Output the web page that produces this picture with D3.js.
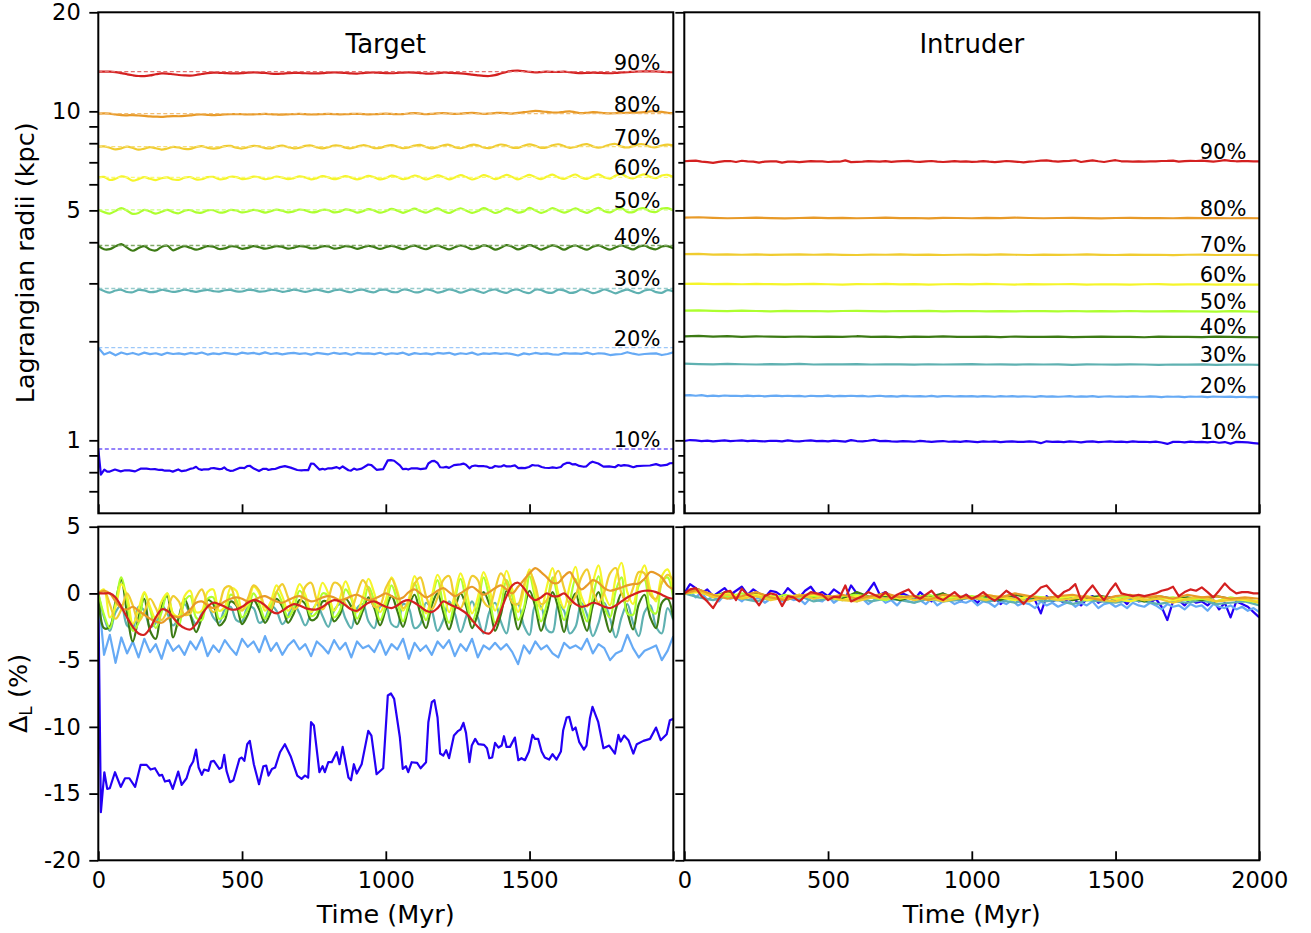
<!DOCTYPE html>
<html>
<head>
<meta charset="utf-8">
<script src="https://cdn.jsdelivr.net/npm/d3@7"></script>
<style>
  body { margin: 0; background: #fff; }
  svg { display: block; }
  text { font-family: "DejaVu Sans", sans-serif; fill: #000; }
</style>
</head>
<body>
<svg id="chart" width="1311" height="933"></svg>
<script>
// ---------------------------------------------------------------
// Lagrangian radii of the target and intruder galaxies over time
// ---------------------------------------------------------------
const fractions = ["10%", "20%", "30%", "40%", "50%", "60%", "70%", "80%", "90%"];
const colors = ["#2400f5", "#66aaf5", "#5fb1b1", "#3c7a14", "#adff2f",
                "#f5f52a", "#f0cc30", "#e89a28", "#d42020"];

// initial radius (kpc) enclosing each mass fraction
const targetR0   = [0.941, 1.912, 2.894, 3.91, 5.02, 6.30, 7.81, 9.84, 13.2];
const intruderR0 = [0.995, 1.37, 1.71, 2.07, 2.477, 2.99, 3.68, 4.75, 7.05];

// time axis (Myr)
const timeTicks = [0, 500, 1000, 1500, 2000];
const radiusTicksMajor = [1, 5, 10, 20];
const radiusTicksMinor = [0.7, 0.8, 0.9, 2, 3, 4, 6, 7, 8, 9];
const deltaTicks = [5, 0, -5, -10, -15, -20];

// Δ_L (%) of the target; 10% series given as [time, value] pairs,
// the others sampled evenly from 0 to 2000 Myr
const target10 = [[0,0],[9,-16.4],[21,-13.4],[31,-14.65],[40,-14.6],[58,-13.4],[78,-14.5],[93,-13.85],[108,-13.85],[128,-14.5],
  [147,-12.85],[168,-12.85],[182,-13.2],[197,-13.1],[212,-13.65],[222,-13.6],[232,-14.1],[247,-14.0],[259,-14.65],[278,-13.35],
  [290,-14.35],[307,-13.85],[319,-13.0],[330,-12.6],[340,-11.7],[349,-13.05],[360,-13.6],[368,-13.2],[383,-13.3],[392,-12.6],
  [402,-12.55],[421,-13.15],[429,-13.05],[438,-12.1],[446,-13.3],[458,-14.15],[470,-14.0],[491,-12.4],[499,-12.3],[508,-12.55],
  [518,-11.3],[527,-11.05],[541,-12.8],[559,-14.3],[574,-12.95],[584,-12.9],[592,-13.65],[604,-13.15],[615,-13.05],[632,-11.9],
  [649,-11.3],[669,-12.2],[692,-13.65],[707,-13.9],[719,-13.65],[730,-13.8],[740,-9.65],[750,-9.9],[769,-13.4],[780,-12.95],
  [788,-13.4],[800,-12.65],[812,-12.65],[829,-11.9],[839,-12.8],[850,-11.5],[870,-13.8],[879,-14.0],[889,-12.8],[899,-13.5],
  [916,-12.8],[939,-10.3],[950,-10.65],[968,-13.55],[991,-13.1],[1007,-7.65],[1018,-7.5],[1029,-7.9],[1049,-10.8],[1059,-13.15],
  [1070,-12.95],[1078,-13.4],[1090,-12.65],[1109,-12.7],[1121,-13.1],[1140,-12.65],[1148,-9.65],[1160,-8.15],[1169,-8.0],[1180,-9.3],
  [1189,-12.0],[1200,-12.15],[1210,-11.75],[1220,-12.35],[1237,-10.65],[1252,-10.3],[1260,-10.2],[1270,-9.7],[1279,-10.45],[1291,-12.65],
  [1299,-11.4],[1311,-10.9],[1322,-11.3],[1342,-11.35],[1352,-11.6],[1360,-12.35],[1370,-12.3],[1380,-11.2],[1392,-11.55],[1403,-11.4],
  [1411,-10.7],[1420,-11.5],[1432,-11.5],[1449,-10.8],[1461,-12.5],[1472,-12.35],[1484,-12.5],[1498,-11.85],[1510,-10.6],[1519,-10.9],
  [1530,-10.9],[1542,-11.85],[1553,-12.3],[1568,-12.45],[1580,-12.05],[1594,-12.45],[1609,-11.85],[1617,-10.25],[1629,-9.3],[1638,-9.25],
  [1650,-10.25],[1660,-10.05],[1673,-11.15],[1689,-11.7],[1698,-11.4],[1710,-9.35],[1719,-8.5],[1739,-9.65],[1757,-11.6],[1777,-11.4],
  [1797,-12.0],[1809,-10.6],[1817,-11.1],[1829,-10.65],[1844,-11.0],[1861,-12.0],[1873,-11.3],[1896,-11.05],[1919,-10.9],[1940,-10.05],
  [1956,-11.0],[1977,-10.55],[1988,-9.5],[2000,-9.4]];

const target20 = [
  0, -4.6, -3.1, -5.2, -3.3, -4.5, -3.6, -4.8, -3.4, -4.4,
  -3.8, -4.9, -3.5, -4.3, -3.9, -4.6, -3.6, -4.2, -3.3, -4.7,
  -3.9, -4.4, -3.5, -4.1, -4.6, -3.4, -4.0, -3.6, -4.4, -3.2,
  -4.3, -3.7, -4.6, -3.9, -3.5, -4.2, -3.8, -4.7, -3.6, -4.0,
  -4.5, -3.5, -4.2, -3.7, -4.8, -3.6, -4.1, -3.9, -4.4, -3.5,
  -4.6, -3.8, -4.2, -3.4, -4.9, -3.7, -4.3, -3.9, -4.6, -3.6,
  -4.1, -3.5, -4.7, -3.8, -4.3, -3.4, -4.8, -3.9, -4.2, -3.7,
  -4.2, -3.8, -4.4, -5.3, -3.9, -4.5, -3.6, -4.2, -3.9, -4.5,
  -4.8, -3.7, -4.1, -3.9, -4.2, -3.4, -4.5, -3.8, -4.1, -5.0,
  -4.5, -4.3, -3.1, -4.1, -4.8, -4.3, -4.1, -3.9, -5.0, -4.3,
  -3.2];
const target30 = [
  0, -1.8, -2.8, -1.4, -0.9, -2.4, -2.6, -1.0, -1.3, -2.5,
  -2.2, -0.9, -1.5, -2.4, -1.8, -0.8, -1.6, -2.3, -1.5, -0.9,
  -1.8, -2.2, -1.2, -1.0, -2.0, -2.1, -1.0, -1.1, -2.2, -1.9,
  -0.9, -1.3, -2.3, -1.7, -0.8, -1.5, -2.4, -1.5, -0.8, -1.7,
  -2.5, -1.3, -0.8, -1.9, -2.6, -1.1, -0.8, -2.1, -2.6, -1.0,
  -0.9, -2.3, -2.5, -0.8, -1.1, -2.6, -2.3, -0.7, -1.3, -2.8,
  -2.0, -0.6, -1.5, -2.9, -1.7, -0.6, -1.8, -3.0, -1.4, -0.7,
  -2.1, -3.0, -1.1, -0.8, -2.4, -3.1, -0.9, -1.0, -2.7, -2.9,
  -0.8, -1.3, -3.0, -2.5, -0.7, -1.6, -3.2, -2.2, -0.7, -1.9,
  -3.3, -1.8, -0.8, -2.2, -3.2, -1.4, -0.9, -2.5, -3.0, -1.1,
  -2.0];
const target40 = [
  0, -2.6, -2.5, -0.6, 1.0, -1.5, -3.6, -1.8, -0.4, -2.8,
  -3.4, -1.0, -0.2, -3.3, -1.8, -0.4, -1.6, -2.9, -1.8, -0.5,
  -0.8, -2.4, -2.0, -0.6, -0.9, -2.3, -1.6, -0.5, -1.2, -2.2,
  -1.4, -0.4, -1.0, -2.2, -1.5, -0.5, -0.8, -2.0, -1.8, -0.6,
  -0.7, -2.1, -1.6, -0.4, -1.0, -2.3, -1.3, -0.3, -1.1, -2.4,
  -1.2, -0.2, -1.3, -2.5, -1.0, -0.1, -1.5, -2.6, -0.9, 0.0,
  -1.4, -2.7, -1.2, 0.0, -1.0, -2.6, -1.5, 0.1, -0.8, -2.8,
  -1.6, 0.2, -0.9, -2.7, -1.3, 0.2, -1.0, -2.8, -1.4, 0.1,
  -1.1, -2.9, -1.0, 0.0, -1.6, -2.8, -0.9, 0.1, -1.5, -2.9,
  -1.2, 0.0, -1.4, -2.7, -0.8, -0.1, -1.8, -2.6, -0.7, -0.4,
  -1.9];
const target50 = [
  0, -1.6, -2.6, -0.8, 1.2, -0.6, -2.8, -2.2, 0.0, -1.2,
  -2.6, -1.4, 0.0, -1.6, -2.4, -0.6, -0.2, -1.8, -2.0, -0.4,
  -0.3, -1.9, -1.6, -0.1, -0.5, -1.8, -1.2, 0.0, -0.8, -1.9,
  -1.0, 0.1, -0.7, -1.8, -1.1, 0.2, -0.4, -1.7, -1.4, 0.0,
  -0.2, -1.8, -1.3, 0.3, -0.4, -1.9, -1.0, 0.5, -0.6, -2.0,
  -0.9, 0.6, -0.6, -2.1, -0.7, 0.8, -0.8, -2.0, -0.4, 1.0,
  -0.9, -2.2, -0.5, 1.1, -0.6, -2.1, -0.9, 1.2, -0.3, -2.2,
  -1.0, 1.0, -0.2, -2.0, -1.1, 1.3, -0.4, -2.1, -0.8, 1.2,
  -0.5, -2.0, -0.6, 1.1, -0.9, -2.1, -0.3, 1.3, -1.0, -1.8,
  0.2, 1.2, -1.5, -1.6, 0.6, 1.0, -1.2, -1.5, 0.8, 1.2,
  -0.4];
const target60 = [
  0, 0.3, -1.8, -1.0, 0.7, -0.2, -2.3, -1.2, 0.1, -1.0,
  -1.9, -0.6, 0.0, -1.5, -1.7, -0.2, 0.2, -1.4, -1.3, 0.1,
  0.3, -1.3, -1.0, 0.4, 0.2, -1.2, -0.8, 0.5, 0.0, -1.3,
  -0.6, 0.6, -0.2, -1.3, -0.5, 0.7, -0.1, -1.4, -0.6, 0.8,
  0.0, -1.3, -0.4, 0.9, -0.2, -1.4, -0.3, 1.1, 0.0, -1.4,
  -0.5, 1.2, 0.2, -1.3, -0.4, 1.3, 0.1, -1.5, -0.2, 1.4,
  0.3, -1.4, -0.1, 1.5, 0.2, -1.5, -0.3, 1.6, 0.4, -1.3,
  0.0, 1.7, 0.3, -1.4, 0.2, 1.8, 0.1, -1.2, 0.5, 1.9,
  0.0, -1.1, 0.6, 2.0, -0.2, -1.0, 0.8, 2.1, 0.0, -0.9,
  1.2, 2.3, 0.1, -0.8, 1.0, 2.1, 0.3, -0.6, 1.3, 1.8,
  0.2];
const target70 = [
  0, 0.2, -0.8, -1.9, -1.2, 0.0, -0.9, -2.1, -1.4, -0.4,
  -1.1, -2.0, -1.3, -0.2, -0.6, -1.6, -1.5, -0.3, 0.3, -0.8,
  -1.4, -0.9, 0.4, 0.5, -0.8, -1.3, -0.4, 0.6, 0.2, -1.0,
  -1.2, 0.1, 0.7, -0.3, -1.2, -0.8, 0.5, 0.8, -0.5, -1.2,
  -0.4, 0.8, 0.6, -0.8, -1.1, 0.0, 1.0, 0.3, -1.0, -0.9,
  0.4, 1.1, 0.0, -1.1, -0.6, 0.7, 1.2, -0.2, -1.2, -0.3,
  1.0, 1.3, -0.4, -1.1, 0.0, 1.3, 1.0, -0.6, -1.0, 0.3,
  1.5, 0.8, -0.7, -0.8, 0.6, 1.6, 0.6, -0.8, -0.5, 0.9,
  1.7, 0.4, -0.8, -0.2, 1.2, 1.8, 0.2, -0.7, 0.1, 1.5,
  1.9, 0.0, -0.6, 0.4, 1.6, 1.5, -0.1, -0.4, 0.8, 1.4,
  1.0];
const target80 = [
  0, 0.2, 0.0, -0.6, -1.1, -1.2, -1.0, -1.3, -1.6, -1.9,
  -2.1, -2.2, -1.9, -1.7, -1.8, -1.6, -1.2, -0.7, -0.6, -0.9,
  -1.1, -0.9, -0.6, -0.4, -0.3, -0.4, -0.6, -0.5, -0.3, -0.2,
  -0.4, -0.6, -0.7, -0.5, -0.3, -0.2, -0.4, -0.6, -0.5, -0.3,
  -0.2, -0.3, -0.5, -0.4, -0.2, -0.1, -0.3, -0.5, -0.4, -0.2,
  0.0, -0.2, -0.4, -0.3, 0.1, 0.3, 0.0, -0.3, -0.1, 0.2,
  0.4, 0.1, -0.2, 0.0, 0.3, 0.5, 0.2, -0.1, 0.1, 0.4,
  0.6, 0.3, 0.0, 0.5, 1.0, 1.5, 1.9, 1.6, 1.2, 0.8,
  0.8, 1.3, 1.6, 0.9, 0.3, 0.6, 1.0, 0.8, 0.4, 0.2,
  0.3, 0.45, 0.6, 0.7, 0.75, 1.1, 1.6, 1.5, 1.2, 0.6,
  0.3];
const target90 = [
  0, 0.0, 0.0, -0.3, -1.0, -1.8, -2.5, -3.0, -3.1, -2.6,
  -1.8, -1.2, -1.3, -1.8, -2.3, -2.6, -2.7, -2.3, -1.6, -1.0,
  -0.7, -0.8, -1.0, -1.2, -1.2, -1.0, -0.7, -0.5, -0.6, -0.9,
  -1.3, -1.5, -1.3, -1.0, -0.8, -0.9, -1.1, -1.2, -1.2, -1.0,
  -0.7, -0.5, -0.6, -0.9, -1.2, -1.3, -1.0, -0.7, -0.6, -0.8,
  -1.0, -1.1, -0.9, -0.6, -0.5, -0.7, -1.0, -1.3, -1.4, -1.1,
  -0.6, -0.8, -1.0, -1.2, -1.5, -2.0, -2.5, -2.9, -3.0, -2.4,
  -1.3, -0.2, 0.6, 0.8, 0.4, -0.2, -0.5, -0.3, 0.0, -0.2,
  -0.2, 0.0, -0.4, -0.8, -1.0, -0.9, -0.7, -0.8, -1.0, -1.1,
  -0.9, -0.6, -0.3, -0.1, 0.1, 0.2, 0.2, 0.1, -0.1, -0.3,
  -0.4];

// Δ_L (%) of the intruder, sampled evenly from 0 to 2000 Myr
const intruder10 = [
  0, 0.7, 0.4, 0.0, 0.3, -0.2, 0.1, 0.4, -0.1, 0.2,
  0.5, -0.1, 0.3, 0.0, -0.3, 0.2, 0.1, -0.2, 0.4, 0.0,
  -0.3, 0.2, 0.5, -0.1, 0.1, -0.2, 0.3, 0.0, -0.4, 0.6,
  0.0, -0.3, 0.2, 0.8, -0.1, 0.1, -0.2, -0.4, 0.0, -0.2,
  -0.5, 0.1, -0.3, -0.6, -0.2, 0.0, -0.5, -0.3, -0.6, -0.1,
  -0.4, -0.7, -0.2, -0.5, -0.3, -0.8, -0.4, -0.2, -0.6, -0.6,
  -0.3, -0.5, -1.5, -0.2, -0.6, -0.4, -0.7, -0.3, -0.5, -0.9,
  -0.4, -0.2, -0.7, -0.5, -0.3, -0.6, -0.4, -0.8, -0.3, -0.6,
  -0.5, -0.7, -0.4, -1.0, -2.0, -0.6, -0.5, -0.9, -0.4, -0.7,
  -0.6, -0.9, -0.5, -1.2, -0.7, -1.8, -0.6, -0.8, -1.0, -1.4,
  -1.8];
const intruder20 = [
  0, 0.2, -0.3, 0.1, -0.5, -0.2, -0.6, -0.1, -0.4, -0.3,
  -0.6, -0.2, -0.5, -0.3, -0.7, -0.4, -0.2, -0.6, -0.3, -0.5,
  -0.4, -0.8, -0.3, -0.5, -0.6, -0.2, -0.7, -0.4, -0.5, -0.3,
  -0.6, -0.4, -0.8, -0.5, -0.3, -0.7, -0.5, -0.9, -0.4, -0.6,
  -0.7, -0.5, -0.8, -0.4, -0.9, -0.6, -0.5, -0.8, -0.6, -0.7,
  -0.5, -0.9, -0.6, -0.7, -1.0, -0.6, -0.8, -0.5, -0.9, -0.7,
  -0.8, -1.1, -0.6, -0.9, -0.7, -1.0, -0.8, -0.6, -1.0, -0.7,
  -0.9, -0.6, -1.1, -0.8, -0.7, -1.0, -0.8, -1.1, -0.7, -0.9,
  -1.0, -0.7, -0.9, -1.2, -0.8, -1.0, -0.9, -1.2, -0.8, -1.0,
  -0.9, -1.3, -0.8, -1.0, -1.1, -0.9, -1.2, -1.0, -1.3, -1.1,
  -1.4];
const intruder30 = [
  0, -0.3, -0.5, -0.2, -0.4, -0.6, -0.3, -0.5, -0.2, -0.6,
  -0.4, -0.5, -0.3, -0.6, -0.4, -0.5, -0.7, -0.4, -0.6, -0.5,
  -0.3, -0.6, -0.5, -0.7, -0.4, -0.6, -0.5, -0.8, -0.5, -0.6,
  -0.7, -0.5, -0.6, -0.8, -0.6, -0.7, -0.5, -0.8, -0.7, -0.6,
  -0.9];
const intruder40 = [
  0, 0.3, -0.2, 0.1, -0.3, 0.0, -0.2, -0.4, -0.1, -0.3,
  -0.2, -0.4, 0.1, -0.3, -0.2, -0.5, -0.2, -0.3, 0.0, -0.4,
  -0.3, -0.2, -0.5, -0.1, -0.3, -0.4, -0.2, -0.5, -0.3, -0.2,
  -0.4, -0.3, -0.6, -0.2, -0.4, -0.3, -0.5, -0.2, -0.4, -0.5,
  -0.6];
const intruder50 = [
  0, 0.2, -0.1, -0.3, 0.0, -0.2, -0.4, -0.1, -0.3, -0.2,
  -0.4, -0.2, -0.1, -0.3, -0.5, -0.2, -0.3, -0.1, -0.4, -0.3,
  -0.2, -0.4, -0.3, -0.5, -0.2, -0.3, -0.4, -0.2, -0.5, -0.3,
  -0.4, -0.2, -0.5, -0.4, -0.3, -0.5, -0.4, -0.6, -0.3, -0.5,
  -0.7];
const intruder60 = [
  0, 0.1, -0.2, 0.0, -0.3, -0.1, -0.2, -0.4, -0.2, -0.1,
  -0.3, -0.5, -0.2, -0.3, -0.1, -0.4, -0.2, -0.5, -0.3, -0.2,
  -0.4, -0.1, -0.3, -0.5, -0.2, -0.4, -0.3, -0.2, -0.5, -0.3,
  -0.4, -0.6, -0.3, -0.2, -0.5, -0.4, -0.3, -0.6, -0.4, -0.5,
  -0.6];
const intruder70 = [
  0, 0.2, -0.3, -0.1, -0.4, -0.2, -0.5, -0.3, -0.1, -0.4,
  -0.2, -0.5, -0.6, -0.3, -0.4, -0.2, -0.5, -0.3, -0.6, -0.4,
  -0.3, -0.5, -0.2, -0.4, -0.6, -0.3, -0.5, -0.4, -0.2, -0.5,
  -0.6, -0.3, -0.5, -0.4, -0.7, -0.4, -0.3, -0.6, -0.5, -0.4,
  -0.7];
const intruder80 = [
  0, 0.3, -0.1, -0.4, -0.2, 0.1, -0.3, -0.5, -0.2, 0.0,
  -0.3, -0.1, -0.4, -0.2, 0.0, -0.3, -0.2, -0.5, -0.1, -0.2,
  -0.4, -0.1, -0.3, 0.0, -0.2, -0.4, -0.2, -0.1, -0.3, -0.5,
  -0.2, -0.1, -0.3, -0.2, -0.4, -0.1, -0.3, -0.2, -0.4, -0.3,
  -0.4];
const intruder90 = [
  0, 0.3, 0.4, -0.2, -0.6, -1.1, -0.4, 0.1, 0.2, -0.5,
  0.35, -0.1, -0.3, -0.9, -0.2, 0.0, -0.1, -0.95, -0.2, -0.3,
  -0.6, -0.2, 0.1, 0.0, -0.1, -0.5, -0.25, -0.3, 0.6, -0.6,
  -0.4, -0.2, 0.1, -0.1, -0.3, 0.1, -0.4, -0.1, 0.1, 0.3,
  -0.2, -0.4, -0.1, 0.2, -0.3, -0.5, -0.2, 0.1, -0.3, -0.1,
  -0.4, -0.2, 0.1, -0.3, -0.55, -0.2, 0.2, -0.1, -0.35, -0.8,
  -0.3, 0.0, 0.45, 0.6, 0.1, -0.3, 0.1, 0.3, 0.7, -0.5,
  0.1, 0.6, 0.0, -0.5, 0.2, 0.75, 0.0, -0.1, -0.2, -0.1,
  -0.2, -0.1, 0.0, 0.2, 0.3, 0.5, -0.2, 0.1, 0.3, 0.2,
  0.45, 0.1, -0.3, 0.2, 0.75, 0.3, 0.0, 0.1, 0.1, 0.0,
  0.0];

const targetDelta = [target10, target20, target30, target40, target50,
                     target60, target70, target80, target90];
const intruderDelta = [intruder10, intruder20, intruder30, intruder40, intruder50,
                       intruder60, intruder70, intruder80, intruder90];

// ---------------------------------------------------------------
const svg = d3.select("#chart");
const T_MAX = 2000;

const cols = [{ x0: 98.3, x1: 673.3 }, { x0: 684.3, x1: 1259.3 }];
const topRow = { y0: 12.3, y1: 513.3 };
const botRow = { y0: 526.7, y1: 860.3 };

const yR = d3.scaleLog().domain([0.6, 20]).range([topRow.y1, topRow.y0]);
const yD = d3.scaleLinear().domain([-20, 5]).range([botRow.y1, botRow.y0]);

const TICK_FONT = "22.5px";
const LABEL_FONT = "25.5px";

// series -> [time, Δ] pairs
function toPoints(series) {
  if (Array.isArray(series[0])) return series;
  const n = series.length;
  return series.map((v, i) => [i * T_MAX / (n - 1), v]);
}

function styleAxis(g, width) {
  g.select(".domain").remove();
  g.attr("font-family", null).attr("font-size", null);
  g.selectAll(".tick line").attr("stroke", "#000").attr("stroke-width", width || 1.8);
  g.selectAll(".tick text").style("font-size", TICK_FONT).attr("fill", "#000");
}

let clipId = 0;
function clipFor(x0, x1, y0, y1) {
  const id = "clip" + (clipId++);
  svg.append("clipPath").attr("id", id)
    .append("rect").attr("x", x0).attr("y", y0).attr("width", x1 - x0).attr("height", y1 - y0);
  return "url(#" + id + ")";
}

// the oscillating outer shells of the target are drawn as smooth curves
const panelDefs = [
  { col: 0, r0: targetR0, delta: targetDelta, title: "Target", dashed: true,
    curveFor: k => k >= 2 ? d3.curveCatmullRom.alpha(0.5) : d3.curveLinear },
  { col: 1, r0: intruderR0, delta: intruderDelta, title: "Intruder", dashed: false,
    curveFor: () => d3.curveLinear }
];

panelDefs.forEach(p => {
  const c = cols[p.col];
  const x = d3.scaleLinear().domain([0, T_MAX]).range([c.x0, c.x1]);

  // ---------- top: Lagrangian radii ----------
  const gTop = svg.append("g").attr("clip-path", clipFor(c.x0, c.x1, topRow.y0, topRow.y1));
  p.delta.forEach((s, k) => {
    const lineR = d3.line().x(d => x(d[0])).y(d => yR(d[1])).curve(p.curveFor(k));
    const pts = toPoints(s).map(d => [d[0], p.r0[k] * (1 + d[1] / 100)]);
    gTop.append("path").datum(pts).attr("d", lineR)
      .attr("fill", "none").attr("stroke", colors[k]).attr("stroke-width", 2.2)
      .attr("stroke-linejoin", "round");
  });
  if (p.dashed) {
    const flat = d3.line().x(d => x(d[0])).y(d => yR(d[1]));
    p.r0.forEach((r, k) => {
      gTop.append("path").datum([[0, r], [T_MAX, r]]).attr("d", flat)
        .attr("fill", "none")
        .attr("stroke", d3.interpolateRgb(colors[k], "#ffffff")(0.35))
        .attr("stroke-width", 1.3).attr("stroke-dasharray", "4,2.5");
    });
  }
  // mass-fraction labels
  p.r0.forEach((r, k) => {
    svg.append("text").attr("x", x(1955)).attr("y", yR(r) - 2)
      .attr("text-anchor", "end").style("font-size", "21px").text(fractions[k]);
  });
  // title
  svg.append("text").attr("x", (c.x0 + c.x1) / 2).attr("y", 52.5)
    .attr("text-anchor", "middle").style("font-size", "26px").text(p.title);

  // ---------- bottom: Δ_L ----------
  const gBot = svg.append("g").attr("clip-path", clipFor(c.x0, c.x1, botRow.y0, botRow.y1));
  p.delta.forEach((s, k) => {
    const lineD = d3.line().x(d => x(d[0])).y(d => yD(d[1])).curve(p.curveFor(k));
    gBot.append("path").datum(toPoints(s)).attr("d", lineD)
      .attr("fill", "none").attr("stroke", colors[k]).attr("stroke-width", 2.2)
      .attr("stroke-linejoin", "round");
  });

  // ---------- axes ----------
  // x ticks (inward) on the top row, no labels
  svg.append("g").attr("transform", `translate(0,${topRow.y1})`)
    .call(d3.axisBottom(x).tickValues(timeTicks).tickFormat("").tickSizeInner(-9).tickSizeOuter(0))
    .call(styleAxis);
  // x ticks (inward) with labels on the bottom row
  svg.append("g").attr("transform", `translate(0,${botRow.y1})`)
    .call(d3.axisBottom(x).tickValues(timeTicks)
      .tickFormat(v => (p.col === 0 && v === T_MAX) ? "" : String(v))
      .tickSizeInner(-9).tickSizeOuter(0).tickPadding(11.5))
    .call(styleAxis);

  // y ticks on the radius axis
  const yMajor = d3.axisLeft(yR).tickValues(radiusTicksMajor).tickSizeInner(9).tickSizeOuter(0)
    .tickPadding(8.6).tickFormat(p.col === 0 ? d3.format("d") : "");
  const yMinor = d3.axisLeft(yR).tickValues(radiusTicksMinor).tickSizeInner(p.col === 0 ? 9 : 6)
    .tickSizeOuter(0).tickFormat("");
  svg.append("g").attr("transform", `translate(${c.x0},0)`).call(yMajor).call(styleAxis);
  svg.append("g").attr("transform", `translate(${c.x0},0)`).call(yMinor).call(styleAxis);

  // y ticks on the Δ axis
  svg.append("g").attr("transform", `translate(${c.x0},0)`)
    .call(d3.axisLeft(yD).tickValues(deltaTicks).tickSizeInner(9).tickSizeOuter(0).tickPadding(8.6)
      .tickFormat(p.col === 0 ? (v => String(v)) : ""))
    .call(styleAxis);

  // frames
  [topRow, botRow].forEach(r => {
    svg.append("rect").attr("x", c.x0).attr("y", r.y0)
      .attr("width", c.x1 - c.x0).attr("height", r.y1 - r.y0)
      .attr("fill", "none").attr("stroke", "#000").attr("stroke-width", 2);
  });

  // x-axis title
  svg.append("text").attr("x", (c.x0 + c.x1) / 2).attr("y", 922.5)
    .attr("text-anchor", "middle").style("font-size", LABEL_FONT).text("Time (Myr)");
});

// y-axis titles
svg.append("text").attr("transform", `translate(33.5,${(topRow.y0 + topRow.y1) / 2}) rotate(-90)`)
  .attr("text-anchor", "middle").style("font-size", LABEL_FONT).text("Lagrangian radii (kpc)");

const dl = svg.append("text").attr("transform", `translate(27,${(botRow.y0 + botRow.y1) / 2}) rotate(-90)`)
  .attr("text-anchor", "middle").style("font-size", LABEL_FONT);
dl.append("tspan").text("Δ");
dl.append("tspan").attr("dy", 5).style("font-size", "17px").text("L");
dl.append("tspan").attr("dy", -5).text(" (%)");
</script>
</body>
</html>
